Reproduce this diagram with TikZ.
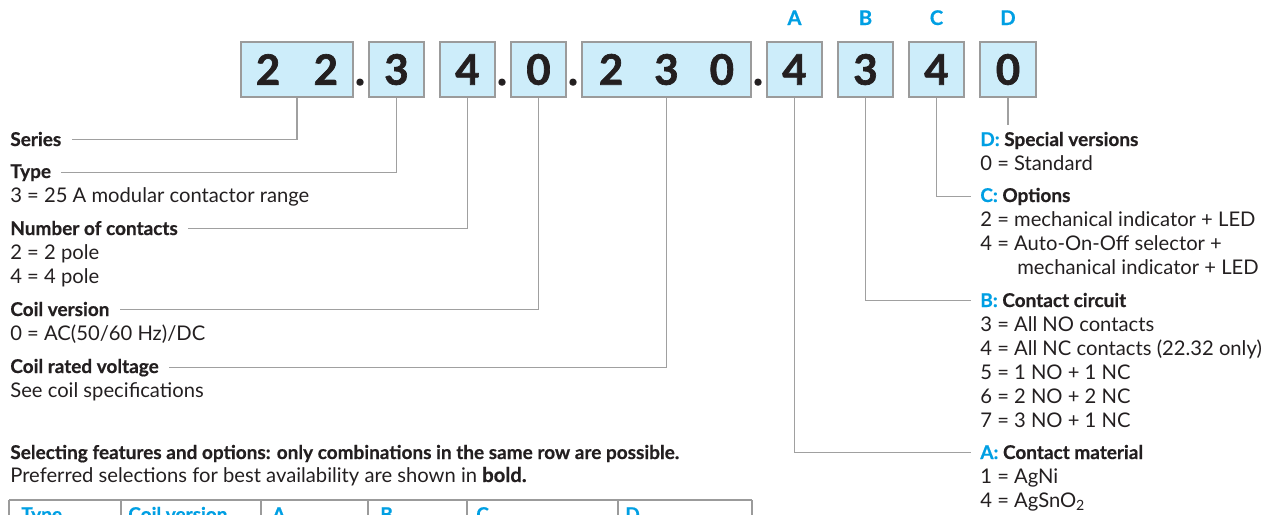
\documentclass[tikz,border=0pt]{standalone}
\usepackage{fontspec}
\setmainfont{Lato}
\newfontfamily\digfont{Lato}[BoldFeatures={FakeBold=1.6}]
\newfontfamily\headfont{Lato}[BoldFeatures={FakeBold=0.6}]
\usetikzlibrary{positioning}
\definecolor{codecyan}{RGB}{0,159,227}
\definecolor{boxfill}{RGB}{205,237,250}
\definecolor{boxline}{RGB}{155,155,155}
\definecolor{leadgray}{RGB}{160,160,160}
\definecolor{inkdark}{RGB}{35,31,32}
\newcommand{\txtsize}{\fontsize{11.5}{13.7}\selectfont}
\newcommand{\hdsize}{\fontsize{10.8}{13.7}\selectfont\headfont\bfseries}
\newcommand{\digsize}{\fontsize{23.9}{26}\selectfont\digfont\bfseries}

\begin{document}
\begin{tikzpicture}[
  x=0.02cm, y=-0.02cm,
  every node/.style={text=inkdark, font=\txtsize, inner sep=0pt},
  digitbox/.style={draw=boxline, line width=0.8pt, fill=boxfill,
                   minimum width=1.1cm, minimum height=1.1cm, font=\digsize},
  dotmark/.style={font=\digsize, anchor=base},
  code/.style={font=\fontsize{11.5}{13.7}\selectfont\headfont\bfseries,
               text=codecyan, anchor=base},
  head/.style={font=\hdsize, anchor=base west},
  val/.style={font=\txtsize, anchor=base west},
  thead/.style={font=\hdsize, text=codecyan, anchor=base west},
  lead/.style={draw=leadgray, line width=0.6pt},
  tabline/.style={draw=boxline, line width=0.8pt},
]
\useasboundingbox (0,0) rectangle (1280,514);

%% Code boxes
\node[digitbox, minimum width=2.24cm] (b22) at (297,69.5) {2\hspace{0.67cm}2};
\node[digitbox] (b3) at (396.5,69.5) {3};
\node[digitbox] (b4) at (467.5,69.5) {4};
\node[digitbox] (b0) at (538.5,69.5) {0};
\node[digitbox, minimum width=3.38cm] (b230) at (666.5,69.5)
  {2\hspace{0.62cm}3\hspace{0.62cm}0};
\node[digitbox] (bA) at (794.5,69.5) {4};
\node[digitbox] (bB) at (865.5,69.5) {3};
\node[digitbox] (bC) at (936.5,69.5) {4};
\node[digitbox, minimum width=1.12cm] (bD) at (1008,69.5) {0};

%% Separating dots
\node[dotmark] (d1) at (360,85) {.};
\node[dotmark] (d2) at (502,85) {.};
\node[dotmark] (d3) at (573,85) {.};
\node[dotmark] (d4) at (758,85) {.};

%% Option letters
\node[code] (cA) at (794.5,25) {A};
\node[code] (cB) at (865.5,25) {B};
\node[code] (cC) at (936.5,25) {C};
\node[code] (cD) at (1008,25) {D};

%% Left-hand fields
\node[head] (series) at (10,146) {Series};
\node[head] (type) at (10,178) {Type};
\node[val] (typev) at (10,202) {3 = 25 A modular contactor range};
\node[head] (contacts) at (10,235) {Number of contacts};
\node[val] (contv1) at (10,259) {2 = 2 pole};
\node[val] (contv2) at (10,283) {4 = 4 pole};
\node[head] (coilver) at (10,316) {Coil version};
\node[val] (coilverv) at (10,340) {0 = AC(50/60 Hz)/DC};
\node[head] (coilvolt) at (10,373) {Coil rated voltage};
\node[val] (coilvoltv) at (10,397) {See coil specifications};

\draw[lead] (b22.south) |- ([xshift=0.2cm]series.east);
\draw[lead] (b3.south) |- ([xshift=0.2cm]type.east);
\draw[lead] (b4.south) |- ([xshift=0.2cm]contacts.east);
\draw[lead] (b0.south) |- ([xshift=0.2cm]coilver.east);
\draw[lead] (b230.south) |- ([xshift=0.2cm]coilvolt.east);

%% Right-hand options
\node[head] (optD) at (980,146) {\textcolor{codecyan}{D:} Special versions};
\node[val] (optDv) at (980,170) {0 = Standard};
\node[head] (optC) at (980,202) {\textcolor{codecyan}{C:} Options};
\node[val] (optCv1) at (980,226) {2 = mechanical indicator + LED};
\node[val] (optCv2) at (980,250) {4 = Auto-On-Off selector +};
\node[val] (optCv3) at (1017,274) {mechanical indicator + LED};
\node[head] (optB) at (980,307) {\textcolor{codecyan}{B:} Contact circuit};
\foreach \y/\t [count=\i] in {331/{3 = All NO contacts},
    355/{4 = All NC contacts (22.32 only)}, 379/{5 = 1 NO + 1 NC},
    403/{6 = 2 NO + 2 NC}, 427/{7 = 3 NO + 1 NC}}
  \node[val] (optBv\i) at (980,\y) {\t};
\node[head] (optA) at (980,459) {\textcolor{codecyan}{A:} Contact material};
\node[val] (optAv1) at (980,483) {1 = AgNi};
\node[val] (optAv2) at (980,507) {4 = AgSnO\textsubscript{2}};

\coordinate (dEnd) at (1008,125);
\draw[lead] (bD.south) -- (dEnd);
\draw[lead] (bC.south) |- ([xshift=-0.18cm]optC.west);
\draw[lead] (bB.south) |- ([xshift=-0.18cm]optB.west);
\draw[lead] (bA.south) |- ([xshift=-0.18cm]optA.west);

%% Selection note
\node[head] (selnote) at (10,459)
  {Selecting features and options: only combinations in the same row are possible.};
\node[val] (prefnote) at (10,482)
  {Preferred selections for best availability are shown in {\headfont\bfseries bold.}};

%% Table header (cut off)
\draw[tabline, line width=1.2pt] (9,500) -- (752,500);
\foreach \x in {9,121,261,368,467,618,752}
  \draw[tabline] (\x,500) -- (\x,520);
\node[thead] (tType) at (21,521) {Type};
\node[thead] (tCoil) at (128,521) {Coil version};
\node[thead] (tA) at (272,521) {A};
\node[thead] (tB) at (380,521) {B};
\node[thead] (tC) at (476,521) {C};
\node[thead] (tD) at (625,521) {D};

\end{tikzpicture}
\end{document}
